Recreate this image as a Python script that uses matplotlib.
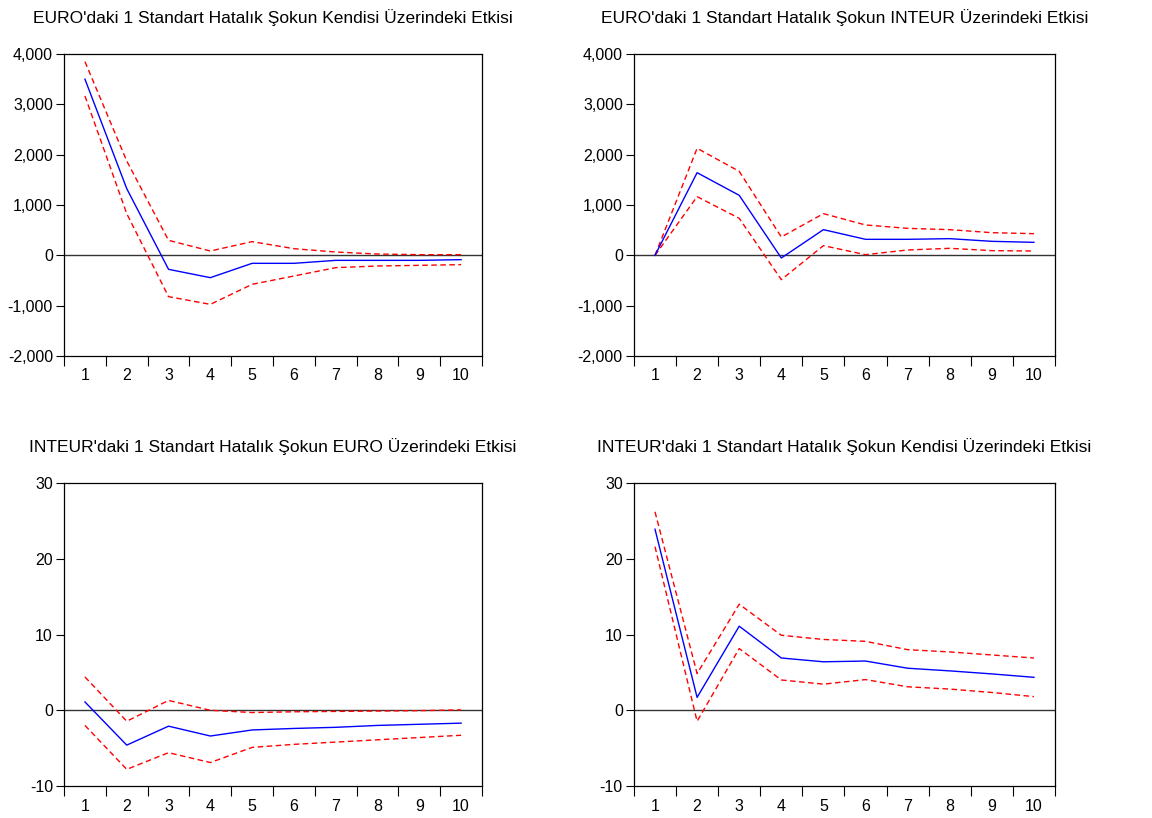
import numpy as np
import matplotlib
matplotlib.use("Agg")
from matplotlib import pyplot as plt
from matplotlib.ticker import FuncFormatter, FixedLocator

plt.rcParams['font.family'] = ['Liberation Sans', 'DejaVu Sans']
plt.rcParams['axes.unicode_minus'] = False

periods = np.arange(1, 11)

# EURO shock -> EURO
ee_resp = [3500, 1325, -278, -444, -159, -159, -100, -100, -100, -86]
ee_up = [3848, 1874, 298, 86, 272, 132, 66, 26, 13, 13]
ee_lo = [3166, 828, -821, -974, -576, -411, -245, -212, -199, -185]

# EURO shock -> INTEUR
ei_resp = [0, 1642, 1192, -53, 510, 318, 318, 331, 278, 258]
ei_up = [0, 2126, 1669, 364, 828, 603, 536, 510, 450, 430]
ei_lo = [0, 1166, 735, -483, 192, 13, 106, 139, 93, 86]

# INTEUR shock -> EURO
ie_resp = [1.1, -4.6, -2.1, -3.4, -2.6, -2.4, -2.25, -2.0, -1.85, -1.7]
ie_up = [4.4, -1.45, 1.3, 0.0, -0.3, -0.2, -0.15, -0.1, -0.05, 0.05]
ie_lo = [-2.0, -7.8, -5.6, -6.9, -4.9, -4.5, -4.2, -3.9, -3.6, -3.3]

# INTEUR shock -> INTEUR
ii_resp = [23.9, 1.7, 11.1, 6.9, 6.4, 6.5, 5.55, 5.2, 4.8, 4.35]
ii_up = [26.2, 4.85, 14.0, 9.9, 9.35, 9.1, 8.0, 7.7, 7.3, 6.9]
ii_lo = [21.6, -1.45, 8.15, 4.0, 3.45, 4.05, 3.1, 2.8, 2.35, 1.8]

titles = ["EURO'daki 1 Standart Hatalık Şokun Kendisi Üzerindeki Etkisi",
          "EURO'daki 1 Standart Hatalık Şokun INTEUR Üzerindeki Etkisi",
          "INTEUR'daki 1 Standart Hatalık Şokun EURO Üzerindeki Etkisi",
          "INTEUR'daki 1 Standart Hatalık Şokun Kendisi Üzerindeki Etkisi"]

panels = [(ee_resp, ee_up, ee_lo), (ei_resp, ei_up, ei_lo),
          (ie_resp, ie_up, ie_lo), (ii_resp, ii_up, ii_lo)]

big_ticks = [-2000, -1000, 0, 1000, 2000, 3000, 4000]
small_ticks = [-10, 0, 10, 20, 30]

fig = plt.figure(figsize=(11.52, 8.18), dpi=100)

rects = [[0.0556, 0.5648, 0.3628, 0.3692],
         [0.5503, 0.5648, 0.3655, 0.3692],
         [0.0556, 0.0391, 0.3628, 0.3704],
         [0.5503, 0.0391, 0.3655, 0.3704]]

for i in range(4):
    ax = fig.add_axes(rects[i])
    resp, up, lo = panels[i]
    ax.axhline(0, color='#333333', lw=1.0, zorder=1)
    ax.plot(periods, resp, color='#0000ff', lw=1.0, zorder=3)
    ax.plot(periods, up, color='#ff0000', lw=1.0, ls=(0, (4, 2.5)), zorder=2)
    ax.plot(periods, lo, color='#ff0000', lw=1.0, ls=(0, (4, 2.5)), zorder=2)

    ax.set_xlim(0.5, 10.5)
    ax.xaxis.set_major_locator(FixedLocator(np.arange(0.5, 11, 1)))
    ax.xaxis.set_minor_locator(FixedLocator(periods))
    ax.set_xticklabels([])
    ax.set_xticklabels([str(p) for p in periods], minor=True)
    ax.tick_params(axis='x', which='major', direction='out', length=7, width=0.8)
    ax.tick_params(axis='x', which='minor', length=0, pad=9, labelsize=11.5)

    if i < 2:
        ax.set_ylim(-2000, 4000)
        ax.set_yticks(big_ticks)
        ax.yaxis.set_major_formatter(FuncFormatter(lambda v, p: f"{int(v):,}"))
    else:
        ax.set_ylim(-10, 30)
        ax.set_yticks(small_ticks)
    ax.tick_params(axis='y', direction='out', length=6, width=0.8, labelsize=11.5, pad=2)

    for s in ax.spines.values():
        s.set_linewidth(0.9)
    ax.set_title(titles[i], fontsize=12.5, pad=22)

fig.savefig("out.png", dpi=100)
